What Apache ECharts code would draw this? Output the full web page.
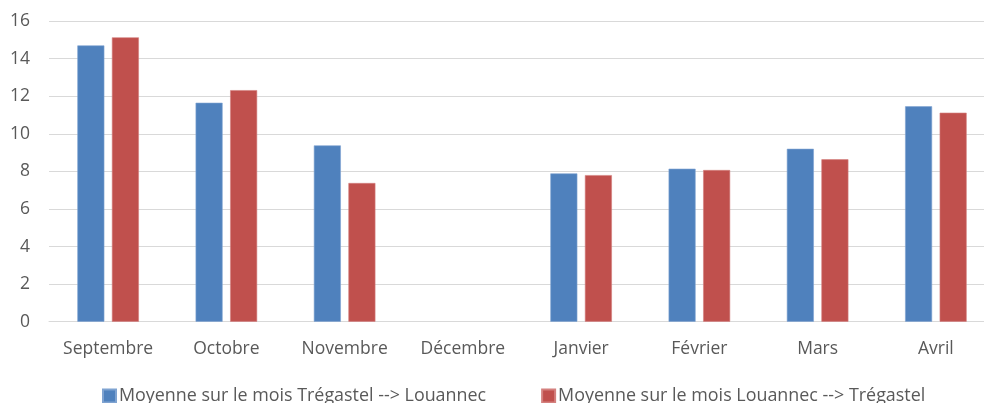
<!DOCTYPE html>
<html>
<head>
<meta charset="utf-8">
<script src="https://cdn.jsdelivr.net/npm/echarts@6/dist/echarts.min.js"></script>
<style>html,body{margin:0;padding:0;background:#fff;}#c{width:984px;height:403px;}</style>
</head>
<body>
<div id="c"></div>
<script>
const categories = ['Septembre','Octobre','Novembre','Décembre','Janvier','Février','Mars','Avril'];
const seriesNames = ['Moyenne sur le mois Trégastel --> Louannec','Moyenne sur le mois Louannec --> Trégastel'];
const tregastelLouannec = [14.70, 11.65, 9.38, null, 7.89, 8.14, 9.20, 11.46];
const louannecTregastel = [15.13, 12.32, 7.38, null, 7.80, 8.07, 8.64, 11.12];
const yTicks = [0, 2, 4, 6, 8, 10, 12, 14, 16];

const font = 'Open Sans';
const chart = echarts.init(document.getElementById('c'), null, {renderer: 'canvas'});
chart.setOption({
  animation: false,
  textStyle: {fontFamily: font},
  grid: {left: 49, top: 21, width: 946, height: 300.7, containLabel: false, outerBoundsMode: 'none'},
  legend: {
    top: 382,
    left: 97,
    itemWidth: 13, itemHeight: 13, itemGap: 55,
    icon: 'rect',
    textStyle: {fontFamily: font, fontSize: 17.9, color: '#595959', padding: [0,0,0,-2]},
    data: seriesNames
  },
  xAxis: {
    type: 'category',
    data: categories,
    axisLine: {show: true, lineStyle: {color: '#d9d9d9', width: 1}},
    axisTick: {show: false},
    axisLabel: {fontFamily: font, fontSize: 17.5, color: '#595959', margin: 18}
  },
  yAxis: {
    type: 'value',
    min: yTicks[0], max: yTicks[yTicks.length-1], interval: 2,
    axisLine: {show: false},
    axisTick: {show: false},
    splitLine: {lineStyle: {color: '#d9d9d9', width: 1}},
    axisLabel: {fontFamily: font, fontSize: 17.5, color: '#595959', margin: 19}
  },
  series: [
    {name: seriesNames[0], type: 'bar', data: tregastelLouannec, barWidth: 27, barGap: '28%',
     itemStyle: {color: '#4F81BD', borderColor: '#7fa3d1', borderWidth: 0.6}},
    {name: seriesNames[1], type: 'bar', data: louannecTregastel, barWidth: 27, barGap: '28%',
     itemStyle: {color: '#C0504D', borderColor: '#d4807e', borderWidth: 0.6}}
  ]
});
</script>
</body>
</html>
